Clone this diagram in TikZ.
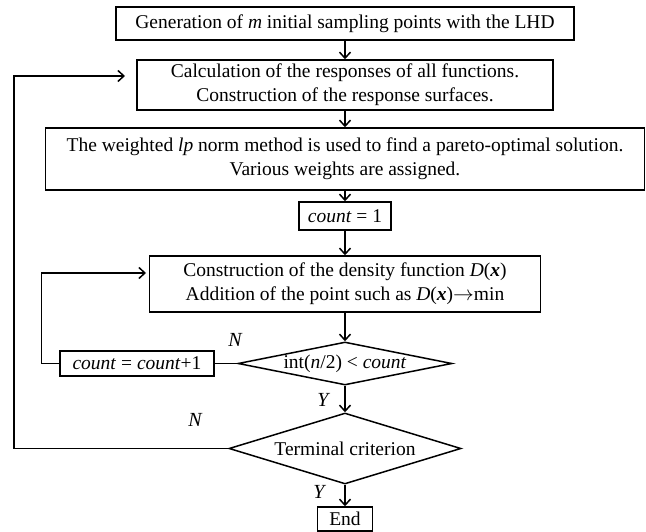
\documentclass[tikz,border=0pt]{standalone}
\usepackage{fontspec}
\setmainfont{Liberation Serif}
\usetikzlibrary{shapes.geometric,arrows.meta}
\tikzset{
  box/.style={draw, rectangle, line width=1.5pt, align=center, inner sep=0pt},
  decision/.style={draw, diamond, line width=1.5pt, align=center, inner sep=0pt},
  flow/.style={line width=1.5pt, -{Straight Barb[length=6pt,width=11pt]}},
  link/.style={line width=1.5pt},
  yn/.style={font=\fontsize{20}{22}\selectfont\itshape}
}
\begin{document}
\begin{tikzpicture}[x=1pt,y=-1pt,font=\fontsize{19.5}{24}\selectfont]
\useasboundingbox (0,0) rectangle (646,532);
\node[box, minimum width=458pt, minimum height=33pt] (gen) at (345,23.5) {Generation of \textit{m} initial sampling points with the LHD};
\node[box, minimum width=416pt, minimum height=50pt] (resp) at (345,85) {Calculation of the responses of all functions.\\Construction of the response surfaces.};
\node[box, minimum width=599pt, minimum height=62pt] (norm) at (345,159) {The weighted \textit{lp} norm method is used to find a pareto-optimal solution.\\Various weights are assigned.};
\node[box, minimum width=92pt, minimum height=28pt] (init) at (345,216) {\textit{count} = 1};
\node[box, minimum width=391pt, minimum height=56pt] (dens) at (345,284) {Construction of the density function \textit{D}(\textbf{\textit{x}})\\Addition of the point such as \textit{D}(\textbf{\textit{x}})$\rightarrow$min};
\node[decision, aspect=5, minimum width=214pt, minimum height=43pt] (test) at (345,363.5) {int(\textit{n}/2) < \textit{count}};
\node[box, minimum width=154pt, minimum height=25pt] (inc) at (137,363.5) {\textit{count} = \textit{count}+1};
\node[decision, aspect=3.3, minimum width=232pt, minimum height=71pt] (term) at (345,448.5) {Terminal criterion};
\node[box, minimum width=55pt, minimum height=24pt] (end) at (345,519) {End};
% loop ends
\coordinate (outerEnd) at (125,76);
\coordinate (innerEnd) at (146,273);
% main flow
\draw[flow] (gen) -- (resp);
\draw[flow] (resp) -- (norm);
\draw[flow] (norm) -- (init);
\draw[flow] (init) -- (dens);
\draw[flow] (dens) -- (test);
\draw[flow] (test) -- (term);
\draw[flow] (term) -- (end);
% loops
\draw[link] (test.west) -- (inc.east);
\draw[flow] (inc.west) -- ++(-18,0) |- (innerEnd);
\draw[flow] (term.west) -- (14,448.5) |- (outerEnd);
% labels
\node[yn] (n1) at (235,340) {N};
\node[yn] (y1) at (323,400) {Y};
\node[yn] (n2) at (195,420) {N};
\node[yn] (y2) at (319,492) {Y};
\end{tikzpicture}
\end{document}
